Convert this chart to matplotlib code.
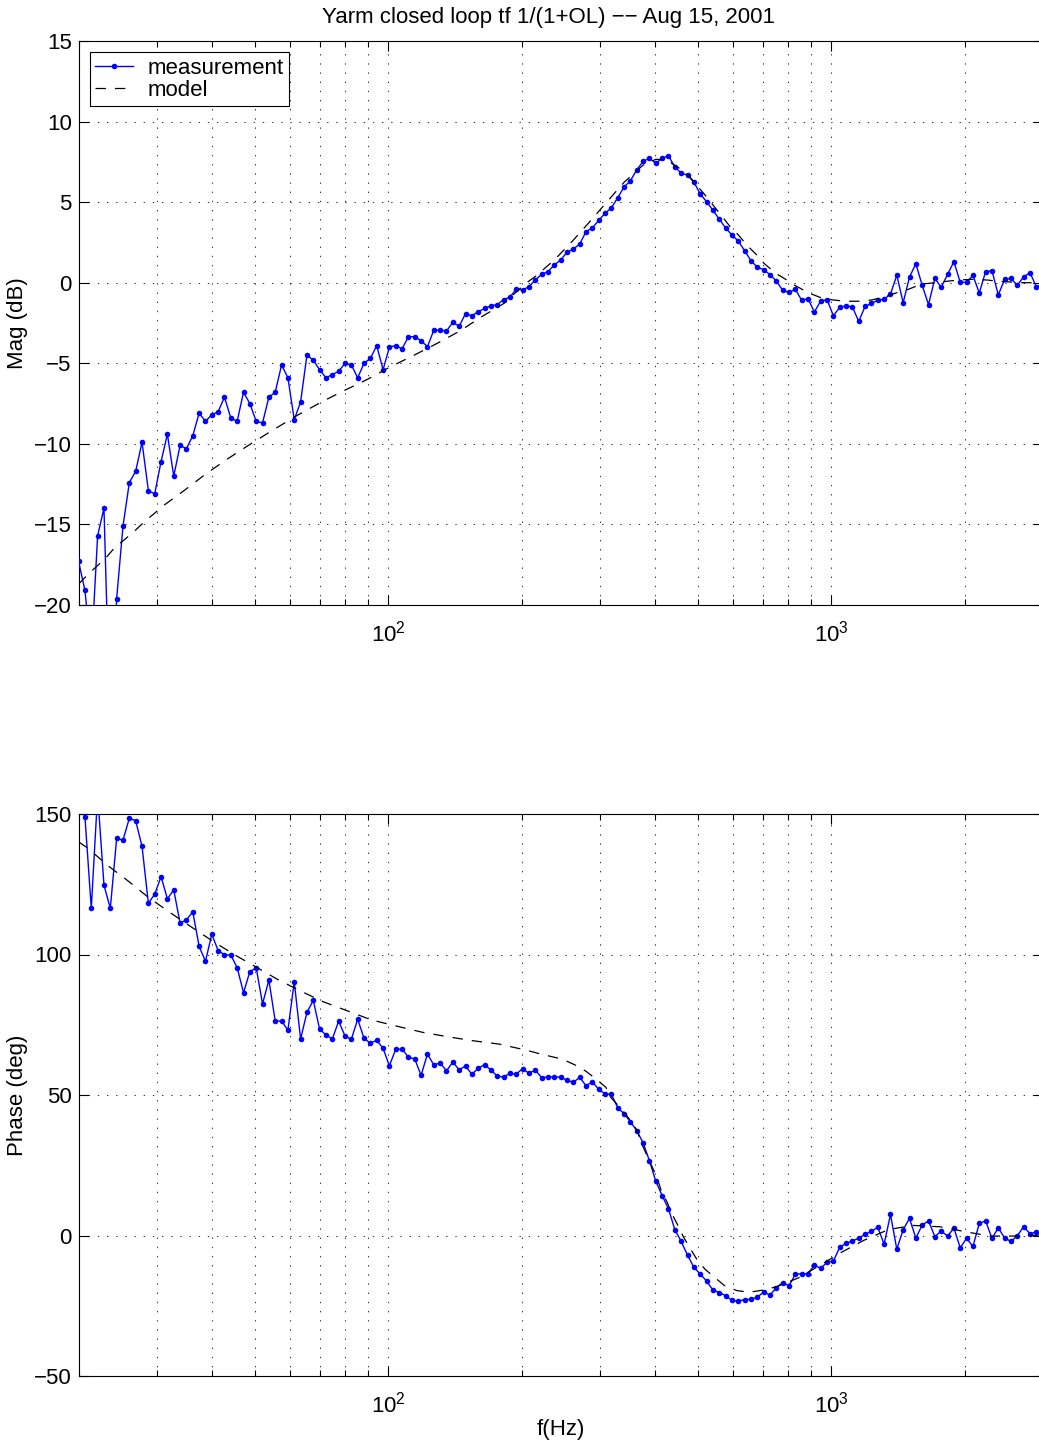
import numpy as np
import matplotlib
matplotlib.use("Agg")
import matplotlib.pyplot as plt
from matplotlib.ticker import LogLocator, NullFormatter

# Swept-sine measurement: 153 log-spaced points from 20 Hz to 3 kHz
freq = np.geomspace(20, 3000, 153)

mag_db = [
    -17.3, -19.1, -23.0, -15.7, -14.0, -28.0, -19.6, -15.1, -12.4, -11.7,
    -9.9, -12.9, -13.1, -11.1, -9.4, -12.0, -10.1, -10.3, -9.5, -8.1,
    -8.6, -8.2, -8.0, -7.1, -8.4, -8.6, -6.8, -7.5, -8.6, -8.7,
    -7.1, -6.8, -5.1, -5.9, -8.5, -7.4, -4.5, -4.8, -5.4, -5.9,
    -5.7, -5.5, -5.0, -5.1, -5.9, -5.0, -4.7, -3.9, -5.4, -4.0,
    -3.9, -4.1, -3.35, -3.35, -3.6, -3.97, -2.95, -2.95, -3.0, -2.46,
    -2.7, -1.92, -2.05, -1.8, -1.6, -1.43, -1.36, -1.05, -0.9, -0.39,
    -0.45, -0.25, 0.17, 0.52, 0.69, 1.1, 1.41, 1.89, 2.09, 2.4,
    3.17, 3.4, 3.87, 4.31, 4.64, 5.28, 5.94, 6.33, 7.0, 7.53,
    7.72, 7.41, 7.72, 7.88, 7.18, 6.81, 6.67, 6.25, 5.51, 5.03,
    4.5, 3.95, 3.4, 2.96, 2.59, 1.99, 1.37, 0.96, 0.81, 0.50,
    0.11, -0.47, -0.6, -0.41, -1.09, -0.99, -1.82, -1.13, -1.05, -2.05,
    -1.53, -1.43, -1.51, -2.4, -1.47, -1.28, -1.09, -1.03, -0.70, 0.46,
    -1.24, 0.35, 1.18, -0.16, -1.36, 0.27, -0.29, 0.52, 1.3, 0.02,
    0.02, 0.46, -0.64, 0.69, 0.75, -0.76, 0.21, 0.27, -0.16, 0.37,
    0.62, -0.25, -0.1,
]

phase_deg = [
    153.0, 149.0, 116.4, 157.0, 124.7, 116.4, 141.3, 140.7, 148.5, 147.6,
    138.5, 118.2, 121.5, 127.7, 119.8, 123.0, 111.2, 112.3, 115.2, 102.9,
    97.6, 107.2, 101.4, 99.9, 99.8, 95.3, 86.4, 93.9, 95.3, 82.4,
    90.9, 76.3, 76.3, 73.1, 90.3, 69.9, 79.4, 83.7, 73.4, 71.4,
    69.9, 76.3, 71.0, 69.8, 77.0, 70.2, 68.4, 69.5, 66.6, 60.4,
    66.3, 66.3, 63.5, 62.8, 57.0, 64.6, 60.7, 61.4, 58.6, 61.7,
    59.0, 60.3, 57.4, 59.5, 60.8, 58.9, 56.7, 56.4, 57.7, 57.4,
    59.4, 57.7, 58.9, 56.2, 56.4, 56.4, 56.4, 55.2, 54.5, 56.3,
    53.3, 54.7, 52.0, 50.4, 50.2, 45.5, 43.3, 40.5, 37.3, 33.0,
    26.6, 19.3, 14.2, 9.5, 2.1, -2.1, -7.0, -11.3, -13.7, -16.2,
    -19.4, -20.3, -21.4, -23.1, -23.4, -22.8, -22.7, -22.0, -20.1, -21.2,
    -18.6, -16.8, -17.9, -13.8, -13.6, -13.6, -10.5, -11.7, -9.5, -9.1,
    -4.2, -2.8, -2.0, -0.9, 0.4, 1.5, 2.9, -3.1, 7.5, -4.9,
    2.1, 6.1, -0.9, 3.7, 5.2, -0.4, 1.6, -0.2, 2.6, -4.4,
    -1.0, -3.9, 4.3, 5.2, -1.0, 2.7, -0.9, -2.1, -0.1, 3.2,
    0.6, 1.3, 1.0,
]

# Loop model, closed-loop response 1/(1+OL)
model_mag_freq = [
    20, 21.0, 23.0, 24.2, 25.5, 26.9, 28.1, 29.7, 31.2, 34.6, 38.6, 43.0,
    48.3, 54.1, 62.6, 70.7, 79.4, 89.7, 100.9, 114.5, 129, 145, 162.5, 182.5,
    203.5, 215.5, 237, 261, 285, 311, 340, 376, 402, 425, 454, 476, 492,
    519, 591, 617, 650, 679, 705, 746, 793, 832, 887, 943, 1010, 1074, 1161,
    1234, 1322, 1405, 1492, 1600, 1715, 1822, 1952, 2075, 2243, 2382, 2554,
    2713, 3000,
]
model_mag_db = [
    -18.7, -18.1, -17.1, -16.4, -15.9, -15.35, -14.85, -14.3, -13.8, -12.9,
    -11.9, -11.0, -10.1, -9.25, -8.2, -7.4, -6.7, -6.0, -5.23, -4.49, -3.76,
    -3.0, -2.11, -1.28, -0.08, 0.42, 1.41, 2.61, 3.79, 4.99, 6.21, 7.30,
    7.66, 7.62, 7.10, 6.68, 6.17, 5.44, 3.48, 2.96, 2.23, 1.72, 1.2, 0.62,
    0.17, -0.2, -0.62, -0.91, -1.07, -1.15, -1.15, -1.07, -0.87, -0.62,
    -0.41, -0.08, 0.0, 0.09, 0.17, 0.21, 0.17, 0.09, 0.04, 0.0, 0.0,
]

model_phase_freq = [
    20, 21.0, 23.3, 26.0, 28.7, 32.2, 36.0, 40.3, 45.1, 50.9, 56.0, 63.2,
    71.3, 81.0, 91.7, 104.5, 119.6, 136.6, 155.5, 178.1, 204.3, 218.1,
    247.6, 263.9, 279.1, 294.4, 310, 316.6, 333.4, 349.9, 364.8, 371.4,
    383.1, 391.2, 403.5, 412.6, 426.4, 436.2, 450.1, 463.4, 479.8, 496.9,
    518.7, 573.5, 611.8, 653.2, 702.3, 752.8, 842.6, 943, 1059, 1185, 1345,
    1527, 1760, 2014, 2282, 2643, 3000,
]
model_phase_deg = [
    140.1, 137.8, 131.6, 125.9, 120.4, 114.9, 109.7, 104.6, 99.8, 95.1,
    91.3, 87.1, 83.2, 79.9, 76.7, 74.5, 72.3, 70.7, 69.3, 68.1, 66.0, 64.8,
    62.7, 60.7, 58.5, 55.7, 52.7, 49.4, 45.6, 41.5, 37.3, 33.4, 28.7, 25.5,
    21.0, 16.2, 11.7, 7.9, 3.7, -0.4, -4.5, -8.4, -12.0, -17.8, -19.6,
    -20.2, -19.4, -18.2, -15.1, -10.6, -5.8, -1.7, 2.1, 3.6, 3.1, 1.3,
    -0.2, -0.2, 0.2,
]

mag_ticks = [-20, -15, -10, -5, 0, 5, 10, 15]
phase_ticks = [-50, 0, 50, 100, 150]

plt.rcParams["font.family"] = ["Liberation Sans", "DejaVu Sans"]
plt.rcParams["mathtext.fontset"] = "custom"
plt.rcParams["mathtext.rm"] = "Liberation Sans"
plt.rcParams["mathtext.default"] = "regular"
plt.rcParams["lines.scale_dashes"] = False

FS = 16
W, H = 1039, 1443
fig = plt.figure(figsize=(W / 100, H / 100), dpi=100)


def px_axes(left, top, right, bottom):
    return fig.add_axes([left / W, 1 - bottom / H, (right - left) / W, (bottom - top) / H])


def style(ax, ticks, ylim, ylabel):
    ax.set_xscale("log")
    ax.set_xlim(20, 3000)
    ax.set_ylim(*ylim)
    ax.set_yticks(ticks)
    ax.xaxis.set_major_locator(LogLocator(base=10, numticks=10))
    ax.xaxis.set_minor_locator(LogLocator(base=10, subs=np.arange(2, 10), numticks=20))
    ax.xaxis.set_minor_formatter(NullFormatter())
    ax.tick_params(which="both", direction="in", top=True, right=True,
                   labelsize=FS, width=0.8, color="black")
    ax.tick_params(which="major", length=7)
    ax.tick_params(which="minor", length=4)
    ax.tick_params(axis="y", pad=5)
    ax.tick_params(axis="x", pad=11)
    grid_style = dict(color="black", linewidth=0.7, linestyle=(0, (1, 5.6)), alpha=0.8)
    ax.grid(True, which="major", axis="both", **grid_style)
    ax.grid(True, which="minor", axis="x", **grid_style)
    for sp in ax.spines.values():
        sp.set_linewidth(0.8)
        sp.set_color("black")
    ax.set_ylabel(ylabel, fontsize=FS, labelpad=4)
    ax.set_axisbelow(True)


meas_style = dict(color="#0000ff", linewidth=1.0, marker="o", markersize=4.0,
                  markeredgewidth=0, zorder=3)
model_style = dict(color="black", linewidth=0.9, linestyle=(0, (7.5, 6.5)), zorder=4)

ax1 = px_axes(78.6, 41, 1042.7, 605)
ax1.plot(freq, mag_db, label="measurement", **meas_style)
ax1.plot(model_mag_freq, model_mag_db, label="model", **model_style)
style(ax1, mag_ticks, (-20, 15), "Mag (dB)")
leg = ax1.legend(loc="upper left", fontsize=FS, frameon=True, fancybox=False,
                 framealpha=1, edgecolor="black", borderaxespad=0.5,
                 handlelength=1.7, handletextpad=0.65, labelspacing=0.05,
                 borderpad=0.25, numpoints=1)
leg.get_frame().set_linewidth(0.8)

ax2 = px_axes(78.6, 814, 1042.7, 1376)
ax2.plot(freq, phase_deg, **meas_style)
ax2.plot(model_phase_freq, model_phase_deg, **model_style)
style(ax2, phase_ticks, (-50, 150), "Phase (deg)")
ax2.set_xlabel("f(Hz)", fontsize=FS, labelpad=1)

fig.text(548 / W, 1 - 18 / H, "Yarm closed loop tf 1/(1+OL) \u2212\u2212 Aug 15, 2001",
         ha="center", va="center", fontsize=FS)

fig.savefig("out.png", dpi=100, facecolor="white")
